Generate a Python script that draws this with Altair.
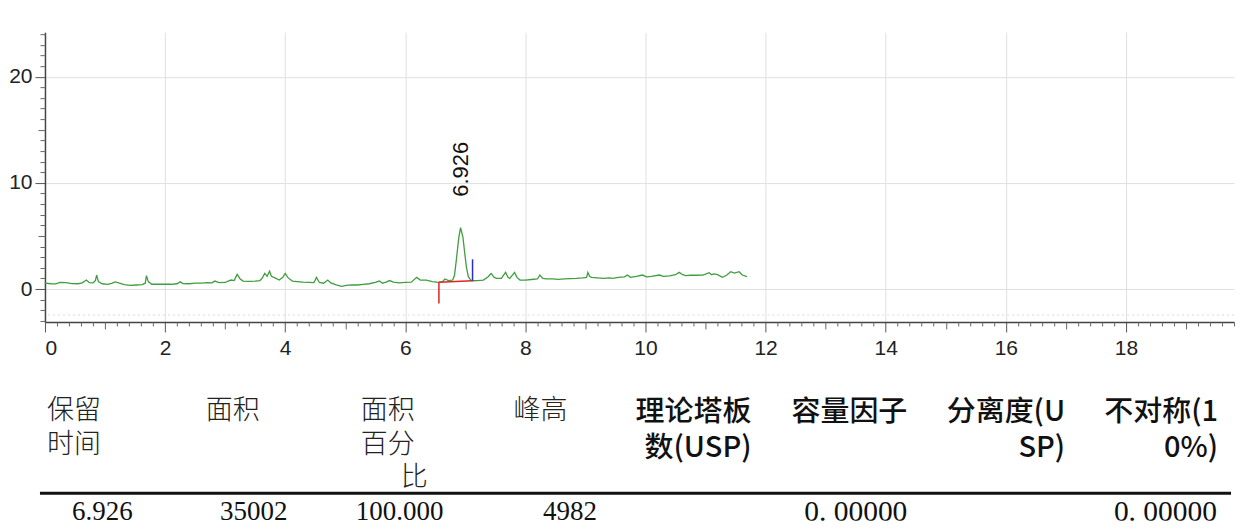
import altair as alt
import pandas as pd

# ---------------- data: chromatogram trace (min, mAU) ----------------
T = [0.00, 0.10, 0.18, 0.25, 0.35, 0.45, 0.55, 0.62, 0.69, 0.74, 0.80, 0.84, 0.86, 0.89, 0.95,
     1.05, 1.12, 1.17, 1.24, 1.32, 1.42, 1.52, 1.62, 1.67, 1.69, 1.72, 1.78, 1.90, 2.00, 2.10,
     2.20, 2.25, 2.30, 2.40, 2.50, 2.60, 2.70, 2.78, 2.83, 2.90, 3.00, 3.05, 3.10, 3.15, 3.20,
     3.25, 3.30, 3.40, 3.50, 3.58, 3.62, 3.66, 3.70, 3.74, 3.77, 3.83, 3.90, 3.96, 4.00, 4.05,
     4.12, 4.20, 4.30, 4.40, 4.48, 4.52, 4.57, 4.64, 4.71, 4.76, 4.85, 4.94, 5.02, 5.10, 5.20,
     5.30, 5.40, 5.50, 5.57, 5.62, 5.68, 5.74, 5.80, 5.90, 6.00, 6.10, 6.19, 6.25, 6.35, 6.45,
     6.56, 6.62, 6.66, 6.72, 6.79, 6.82, 6.85, 6.89, 6.92, 6.96, 6.99, 7.02, 7.05, 7.09, 7.12,
     7.20, 7.30, 7.38, 7.43, 7.48, 7.52, 7.60, 7.67, 7.71, 7.74, 7.82, 7.86, 7.91, 8.00, 8.10,
     8.20, 8.24, 8.29, 8.35, 8.45, 8.55, 8.65, 8.75, 8.85, 8.95, 9.02, 9.04, 9.07, 9.10, 9.20,
     9.30, 9.40, 9.45, 9.55, 9.65, 9.70, 9.75, 9.85, 9.95, 10.02, 10.10, 10.23, 10.30, 10.40,
     10.50, 10.56, 10.62, 10.67, 10.75, 10.85, 10.95, 11.00, 11.06, 11.10, 11.14, 11.20, 11.28,
     11.35, 11.42, 11.48, 11.56, 11.61, 11.69]
SIG = [0.55, 0.50, 0.48, 0.62, 0.60, 0.52, 0.50, 0.58, 0.85, 0.60, 0.58, 0.80, 1.32, 0.70, 0.50,
       0.45, 0.55, 0.68, 0.55, 0.42, 0.35, 0.38, 0.42, 0.55, 1.26, 0.70, 0.45, 0.45, 0.46, 0.45,
       0.50, 0.68, 0.52, 0.50, 0.55, 0.55, 0.60, 0.58, 0.75, 0.60, 0.62, 0.75, 0.85, 0.80, 1.38,
       0.95, 0.75, 0.72, 0.75, 0.80, 1.05, 1.47, 1.20, 1.68, 1.20, 1.05, 0.85, 1.10, 1.47, 1.05,
       0.75, 0.70, 0.65, 0.62, 0.60, 1.10, 0.62, 0.55, 0.85, 0.58, 0.40, 0.25, 0.35, 0.40, 0.38,
       0.45, 0.50, 0.62, 0.75, 0.55, 0.65, 0.80, 0.65, 0.58, 0.62, 0.65, 1.10, 0.85, 0.85, 0.70,
       0.63, 0.70, 0.95, 0.80, 0.85, 1.30, 2.74, 4.80, 5.78, 4.90, 3.37, 2.00, 1.16, 0.85, 0.78,
       0.80, 0.85, 1.16, 1.47, 1.10, 1.00, 1.00, 1.57, 1.10, 1.00, 1.57, 1.10, 0.85, 0.85, 0.90,
       0.95, 1.32, 1.00, 0.95, 0.95, 0.92, 0.95, 0.98, 1.00, 1.05, 1.10, 1.57, 1.20, 1.10, 1.05,
       1.00, 1.05, 1.00, 1.10, 1.15, 1.32, 1.10, 1.20, 1.32, 1.15, 1.20, 1.32, 1.20, 1.25,
       1.35, 1.57, 1.35, 1.26, 1.30, 1.30, 1.32, 1.40, 1.54, 1.35, 1.42, 1.35, 1.10,
       1.30, 1.63, 1.50, 1.63, 1.32, 1.16]

PEAK_RT = [6.926]
PEAK_TOP = [5.78]
PEAK_LABEL = ["6.926"]

# integration baseline (start / end of the peak)
BASE_T = [6.56, 7.12]
BASE_Y = [0.63, 0.78]
START_MARK_LOW = [-1.35]
END_MARK_HIGH = [2.80]

# axis tick values
X_MAJOR = [0, 2, 4, 6, 8, 10, 12, 14, 16, 18]
X_MID = [1, 3, 5, 7, 9, 11, 13, 15, 17, 19]
X_MINOR = [round(i * 0.2, 1) for i in range(0, 100) if i % 5 != 0]
Y_MAJOR = [0, 10, 20]
Y_MID = [5, 15]
Y_MINOR = [v for v in range(-3, 25) if v % 5 != 0]

# results table
HEADERS = [["保留", "时间"], ["面积"], ["面积", "百分", "比"], ["峰高"],
           ["理论塔板", "数(USP)"], ["容量因子"], ["分离度(U", "SP)"], ["不对称(1", "0%)"]]
VALUES = ["6.926", "35002", "100.000", "4982", "", "0. 00000", "", "0. 00000"]

# ---------------- layout / style ----------------
GREEN = "#3f9e3f"
RED = "#e02424"
BLUE = "#2b2bd8"
XDOM = [0, 19.8]
YDOM = [-3.1, 24.2]
W, H = 1190, 290

trace_df = pd.DataFrame({"t": T, "signal": SIG})
peak_df = pd.DataFrame({"t": PEAK_RT, "top": PEAK_TOP, "label": PEAK_LABEL})
base_df = pd.DataFrame({"t": [BASE_T[0]], "y": [BASE_Y[0]], "t2": [BASE_T[1]], "y2": [BASE_Y[1]]})
start_df = pd.DataFrame({"t": [BASE_T[0]], "y": [BASE_Y[0]], "y2": START_MARK_LOW})
end_df = pd.DataFrame({"t": [BASE_T[1]], "y": [BASE_Y[1]], "y2": END_MARK_HIGH})
dot_df = pd.DataFrame({"y": [-2.45]})


def xs():
    return alt.Scale(domain=XDOM, nice=False, zero=False)


def ys():
    return alt.Scale(domain=YDOM, nice=False, zero=False)


def minor_axis(values, size, orient):
    return alt.Axis(values=values, tickSize=size, labels=False, grid=False, domain=False,
                    title=None, orient=orient, tickColor="#666", tickWidth=1)


line = alt.Chart(trace_df).mark_line(color=GREEN, strokeWidth=1.3).encode(
    x=alt.X("t:Q", scale=xs(), axis=alt.Axis(values=X_MAJOR, tickSize=10, labelPadding=6,
                                              grid=True, orient="bottom", title=None,
                                              minExtent=40, format="d")),
    y=alt.Y("signal:Q", scale=ys(), axis=alt.Axis(values=Y_MAJOR, tickSize=10, labelPadding=3,
                                                   grid=True, orient="left", title=None,
                                                   minExtent=37, format="d")),
)

dotted = alt.Chart(dot_df).mark_rule(color="#dadada", strokeDash=[2, 3], strokeWidth=1).encode(
    y=alt.Y("y:Q", scale=ys(), axis=None),
)

base_rule = alt.Chart(base_df).mark_rule(color=RED, strokeWidth=1.5).encode(
    x=alt.X("t:Q", scale=xs(), axis=minor_axis(X_MINOR, 4, "bottom")),
    x2="t2:Q",
    y=alt.Y("y:Q", scale=ys(), axis=minor_axis(Y_MINOR, 5, "left")),
    y2="y2:Q",
)

start_rule = alt.Chart(start_df).mark_rule(color=RED, strokeWidth=1.5).encode(
    x=alt.X("t:Q", scale=xs(), axis=minor_axis(X_MID, 7, "bottom")),
    y=alt.Y("y:Q", scale=ys(), axis=minor_axis(Y_MID, 7, "left")),
    y2="y2:Q",
)

end_rule = alt.Chart(end_df).mark_rule(color=BLUE, strokeWidth=1.5).encode(
    x=alt.X("t:Q", scale=xs(), axis=None),
    y=alt.Y("y:Q", scale=ys(), axis=None),
    y2="y2:Q",
)

peak_text = alt.Chart(peak_df).mark_text(
    angle=270, align="left", baseline="middle", dx=31, font="Liberation Sans",
    fontSize=22, color="#111"
).encode(
    x=alt.X("t:Q", scale=xs(), axis=None),
    y=alt.Y("top:Q", scale=ys(), axis=None),
    text="label:N",
)

chromo = alt.layer(line, dotted, base_rule, start_rule, end_rule, peak_text).resolve_scale(
    x="independent", y="independent"
).properties(width=W, height=H)

# ---------------- table ----------------
# column anchors in column-slot units (slot width ~149 px), rows in units of 35 px
LEFT_ANCHOR = [[0.047, 0.047], [1.114], [2.154, 2.154, 2.423], [3.181]]
RIGHT_ANCHOR = [4.779, 5.826, 6.886, 7.913]
LEFT_ROWS = [0.843, 1.814, 2.757]
RIGHT_ROWS = [0.857, 1.90]
VALUE_ANCHOR = [0.419, 1.436, 2.416, 3.560, 4.779, 5.826, 6.886, 7.906]
VALUE_ROW = 3.71
RULE_ROW = 3.186

lh, rh, lv, rv = [], [], [], []
for ci, lines in enumerate(HEADERS):
    for li, txt in enumerate(lines):
        if ci < 4:
            lh.append({"x": LEFT_ANCHOR[ci][li], "y": LEFT_ROWS[li], "text": txt})
        else:
            rh.append({"x": RIGHT_ANCHOR[ci - 4], "y": RIGHT_ROWS[li], "text": txt})
for ci, txt in enumerate(VALUES):
    if not txt:
        continue
    if ci < 4:
        lv.append({"x": VALUE_ANCHOR[ci], "y": VALUE_ROW, "text": txt})
    else:
        rv.append({"x": VALUE_ANCHOR[ci], "y": VALUE_ROW, "text": txt})

TW, TH = 1190, 139
tx = alt.Scale(domain=[0.0336, 8.020], nice=False, zero=False)
ty = alt.Scale(domain=[0, TH / 35.0], nice=False, zero=False, reverse=True)


def tenc():
    return dict(x=alt.X("x:Q", scale=tx, axis=None), y=alt.Y("y:Q", scale=ty, axis=None),
                text="text:N")


t_lh = alt.Chart(pd.DataFrame(lh)).mark_text(
    align="left", baseline="middle", font="Noto Sans CJK SC", fontSize=27, fontWeight=300,
    color="#222", clip=True).encode(**tenc())
t_rh = alt.Chart(pd.DataFrame(rh)).mark_text(
    align="right", baseline="middle", font="Noto Sans CJK SC", fontSize=29, fontWeight=500,
    color="#111", clip=True).encode(**tenc())
t_lv = alt.Chart(pd.DataFrame(lv)).mark_text(
    align="center", baseline="middle", font="Liberation Serif", fontSize=27,
    color="#111", clip=True).encode(**tenc())
t_rv = alt.Chart(pd.DataFrame(rv)).mark_text(
    align="right", baseline="middle", font="Liberation Serif", fontSize=29.5,
    color="#111", clip=True).encode(**tenc())
rule_df = pd.DataFrame({"x": [0.0], "x2": [8.0], "y": [RULE_ROW]})
t_rule = alt.Chart(rule_df).mark_rule(color="#111", strokeWidth=3).encode(
    x=alt.X("x:Q", scale=tx, axis=None), x2="x2:Q",
    y=alt.Y("y:Q", scale=ty, axis=None))

table = alt.layer(t_rule, t_lh, t_rh, t_lv, t_rv).properties(width=TW, height=TH)

chart = alt.vconcat(chromo, table, spacing=20).properties(
    padding={"left": 0, "top": 24, "right": 0, "bottom": 0},
    background="white",
).configure_view(stroke=None).configure_axis(
    labelFont="Liberation Sans", labelFontSize=21, labelColor="#222",
    domainColor="#444", domainWidth=1.5, tickColor="#555", gridColor="#e0e0e0", gridWidth=1,
)

chart.save("out.html", embed_options={"renderer": "svg", "actions": False})
